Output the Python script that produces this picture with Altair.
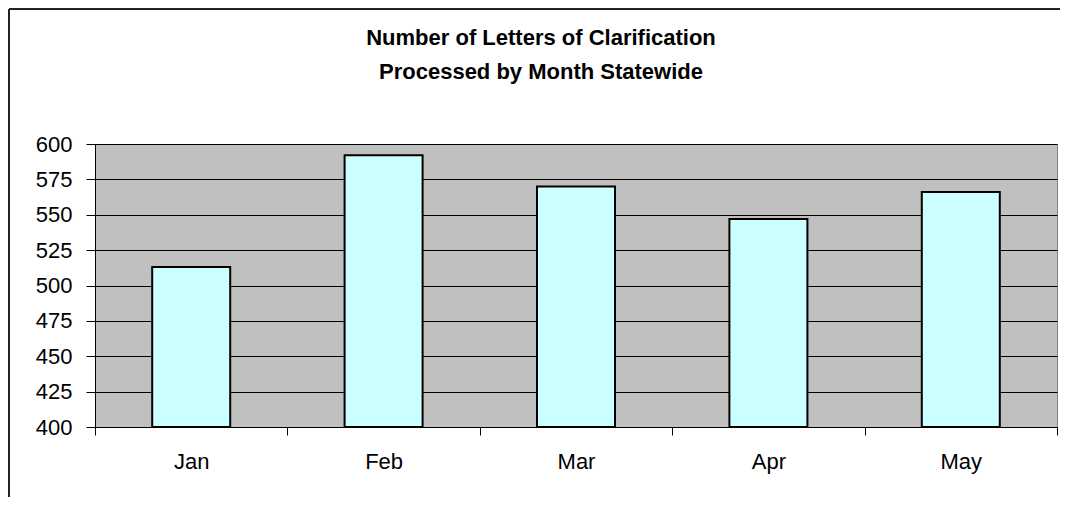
import altair as alt
import pandas as pd

months = ["Jan", "Feb", "Mar", "Apr", "May"]
letters = [513, 592, 570, 547, 566]
y_ticks = [400, 425, 450, 475, 500, 525, 550, 575, 600]
title_lines = ["Number of Letters of Clarification", "Processed by Month Statewide"]

df = pd.DataFrame({"Month": months, "Letters": letters})

FONT = "Liberation Sans"

bars = alt.Chart(df).mark_bar(
    size=78, color="#CCFFFF", stroke="#000000", strokeWidth=2
).encode(
    x=alt.X(
        "Month:N",
        sort=months,
        scale=alt.Scale(paddingInner=0, paddingOuter=0),
        axis=alt.Axis(
            title=None, labelAngle=0, tickBand="extent", grid=False,
            tickSize=8, labelPadding=16, labelFontSize=22, labelFont=FONT,
            labelColor="#000000", tickColor="#000000", domainColor="#000000",
        ),
    ),
    y=alt.Y(
        "Letters:Q",
        scale=alt.Scale(domain=[400, 600], nice=False, zero=False),
        axis=alt.Axis(
            title=None, values=y_ticks, grid=True, gridColor="#000000",
            gridOpacity=1, gridWidth=1, tickSize=9, labelPadding=14,
            labelFontSize=22, labelFont=FONT, labelColor="#000000",
            tickColor="#000000", domainColor="#000000",
        ),
    ),
    y2=alt.datum(400),
)

frame_df = pd.DataFrame({"f": [0]})
frame_left = alt.Chart(frame_df).mark_rule(color="#222222", strokeWidth=2).encode(
    x=alt.value(-86), y=alt.value(-135), y2=alt.value(360)
)
frame_top = alt.Chart(frame_df).mark_rule(color="#222222", strokeWidth=2).encode(
    x=alt.value(-86), x2=alt.value(970), y=alt.value(-135)
)

chart = alt.layer(bars, frame_left, frame_top).properties(
    width=962,
    height=283,
    background="#FFFFFF",
    autosize=alt.AutoSizeParams(type="none"),
    padding={"left": 87, "top": 136, "right": 3, "bottom": 70},
    title=alt.TitleParams(
        text=title_lines, anchor="middle", frame="bounds", font=FONT,
        fontSize=22, fontWeight="bold", color="#000000", lineHeight=34,
        offset=-76, dx=4,
    ),
).configure_view(
    fill="#C0C0C0", stroke="#808080", strokeWidth=1
)

chart.save("out.html", embed_options={"renderer": "svg", "actions": False})
